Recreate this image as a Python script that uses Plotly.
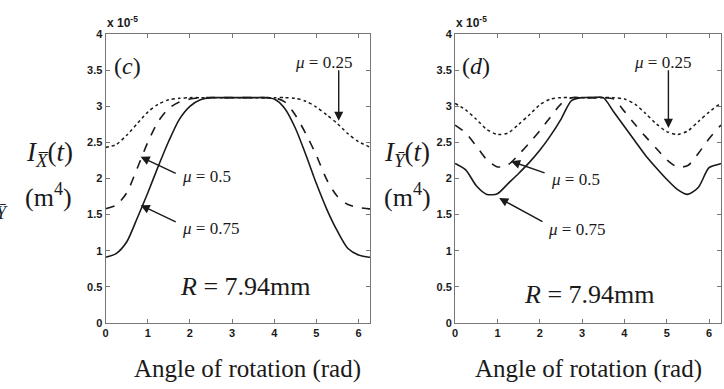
import math
import plotly.graph_objects as go

# Rotation angle samples (rad)
ANGLE = [0.0, 0.25, 0.5, 0.75, 1.0, 1.25, 1.5, 1.75, 2.0, 2.25, 2.5, 2.75, 3.0,
         3.25, 3.5, 3.75, 4.0, 4.25, 4.5, 4.75, 5.0, 5.25, 5.5, 5.75, 6.0, 6.25,
         2 * math.pi]

# Panel (c): I_X(t), units of 1e-5 m^4
IX_MU025 = [2.43, 2.47, 2.60, 2.76, 2.92, 3.03, 3.09, 3.11, 3.12, 3.12, 3.12, 3.12, 3.12,
            3.12, 3.12, 3.12, 3.12, 3.12, 3.11, 3.07, 2.99, 2.88, 2.76, 2.62, 2.51, 2.44,
            2.43]
IX_MU050 = [1.58, 1.63, 1.80, 2.14, 2.50, 2.79, 2.97, 3.06, 3.10, 3.12, 3.12, 3.12, 3.12,
            3.12, 3.12, 3.12, 3.12, 3.06, 2.88, 2.62, 2.32, 1.98, 1.75, 1.64, 1.60, 1.58,
            1.58]
IX_MU075 = [0.91, 0.96, 1.12, 1.45, 1.80, 2.17, 2.52, 2.82, 3.00, 3.09, 3.12, 3.12, 3.12,
            3.12, 3.12, 3.12, 3.10, 2.97, 2.70, 2.33, 1.93, 1.57, 1.27, 1.03, 0.94, 0.91,
            0.91]

# Panel (d): I_Y(t), units of 1e-5 m^4
IY_MU025 = [3.04, 2.95, 2.82, 2.68, 2.61, 2.63, 2.75, 2.88, 3.02, 3.10, 3.12, 3.12, 3.12,
            3.12, 3.12, 3.12, 3.10, 3.03, 2.90, 2.76, 2.65, 2.61, 2.66, 2.79, 2.92, 3.03,
            3.04]
IY_MU050 = [2.74, 2.63, 2.45, 2.26, 2.16, 2.19, 2.33, 2.49, 2.66, 2.85, 3.03, 3.12, 3.12,
            3.12, 3.12, 3.10, 2.93, 2.75, 2.58, 2.42, 2.26, 2.16, 2.18, 2.35, 2.55, 2.72,
            2.74]
IY_MU075 = [2.21, 2.12, 1.90, 1.78, 1.79, 1.93, 2.07, 2.22, 2.39, 2.59, 2.82, 3.08, 3.12,
            3.12, 3.12, 2.92, 2.72, 2.52, 2.32, 2.15, 1.99, 1.85, 1.78, 1.88, 2.15, 2.20,
            2.21]

X_TICKS = [0, 1, 2, 3, 4, 5, 6]
Y_TICKS = [0, 0.5, 1, 1.5, 2, 2.5, 3, 3.5, 4]
Y_TICK_TEXT = ["0", "0.5", "1", "1.5", "2", "2.5", "3", "3.5", "4"]

W, H = 724, 389
SERIF = "Liberation Serif, Times New Roman, serif"
SANS = "Liberation Sans, Arial, sans-serif"
INK = "#1a1a1a"

fig = go.Figure()

styles = [("dot", 1.5), ("dash", 1.6), ("solid", 1.6)]
panels = [
    ("x", "y", [IX_MU025, IX_MU050, IX_MU075]),
    ("x2", "y2", [IY_MU025, IY_MU050, IY_MU075]),
]
for xa, ya, series in panels:
    for vals, (dash, w) in zip(series, styles):
        fig.add_trace(go.Scatter(
            x=ANGLE, y=vals, xaxis=xa, yaxis=ya, mode="lines",
            line=dict(color=INK, width=w, dash=dash, shape="spline", smoothing=0.75),
            showlegend=False, hoverinfo="skip",
        ))


def px_x(p):
    return p / W


def px_y(p):
    return (H - p) / H


axis_common = dict(
    showline=True, linecolor="#777", linewidth=1, mirror="ticks",
    ticks="inside", ticklen=4, tickcolor="#777", tickwidth=1,
    showgrid=False, zeroline=False,
    tickfont=dict(family=SANS, size=11, color="#1a1a1a", weight="bold"),
)

fig.update_layout(
    width=W, height=H,
    margin=dict(l=0, r=0, t=0, b=0),
    paper_bgcolor="white", plot_bgcolor="white",
    xaxis=dict(domain=[px_x(103), px_x(369)], range=[0, 2 * math.pi],
               tickvals=X_TICKS, anchor="y", **axis_common),
    yaxis=dict(domain=[px_y(327), px_y(29)], range=[0, 4],
               tickvals=Y_TICKS, ticktext=Y_TICK_TEXT, anchor="x", **axis_common),
    xaxis2=dict(domain=[px_x(454), px_x(721)], range=[0, 2 * math.pi],
                tickvals=X_TICKS, anchor="y2", **axis_common),
    yaxis2=dict(domain=[px_y(327), px_y(29)], range=[0, 4],
                tickvals=Y_TICKS, ticktext=Y_TICK_TEXT, anchor="x2", **axis_common),
)

ann = []


def text(x, y, s, size, xref="paper", yref="paper", xanchor="center", yanchor="middle",
         family=SERIF, weight="normal"):
    ann.append(dict(x=x, y=y, xref=xref, yref=yref, text=s, showarrow=False,
                    xanchor=xanchor, yanchor=yanchor,
                    font=dict(family=family, size=size, color=INK, weight=weight)))


def arrow(xr, yr, tip, start):
    ann.append(dict(x=tip[0], y=tip[1], ax=start[0], ay=start[1],
                    xref=xr, yref=yr, axref=xr, ayref=yr, text="",
                    showarrow=True, arrowhead=2, arrowsize=1.3, arrowwidth=1.4,
                    arrowcolor=INK, standoff=0))


# Exponent labels
text(px_x(102), px_y(17), "x 10<sup>-5</sup>", 12, xanchor="left", family=SANS, weight="bold")
text(px_x(453), px_y(17), "x 10<sup>-5</sup>", 12, xanchor="left", family=SANS, weight="bold")

# Panel (c)
text(0.15, 3.56, "(<i>c</i>)", 24, "x", "y", xanchor="left")
text(4.45, 3.61, "<i>μ</i> = 0.25", 17, "x", "y", xanchor="left")
text(1.77, 2.03, "<i>μ</i> = 0.5", 17, "x", "y", xanchor="left")
text(1.77, 1.31, "<i>μ</i> = 0.75", 17, "x", "y", xanchor="left")
text(1.72, 0.50, "<i>R</i> = 7.94mm", 26, "x", "y", xanchor="left")
arrow("x", "y", (5.53, 2.80), (5.53, 3.52))
arrow("x", "y", (0.83, 2.30), (1.70, 2.06))
arrow("x", "y", (0.83, 1.63), (1.70, 1.39))

# Panel (d)
text(0.12, 3.56, "(<i>d</i>)", 24, "x2", "y2", xanchor="left")
text(4.17, 3.61, "<i>μ</i> = 0.25", 17, "x2", "y2", xanchor="left")
text(2.22, 1.99, "<i>μ</i> = 0.5", 17, "x2", "y2", xanchor="left")
text(2.15, 1.30, "<i>μ</i> = 0.75", 17, "x2", "y2", xanchor="left")
text(1.58, 0.39, "<i>R</i> = 7.94mm", 26, "x2", "y2", xanchor="left")
arrow("x2", "y2", (5.04, 2.70), (5.04, 3.52))
arrow("x2", "y2", (1.32, 2.24), (2.15, 2.07))
arrow("x2", "y2", (1.04, 1.73), (2.10, 1.39))

# Axis titles
text(px_x(246), px_y(375), "Angle of rotation (rad)", 25)
text(px_x(588), px_y(375), "Angle of rotation (rad)", 25)
text(px_x(47), px_y(153), "<i>I</i><sub><i>X\u0305</i></sub>(<i>t</i>)", 27)
text(px_x(46), px_y(196), "(m<sup>4</sup>)", 26)
text(px_x(406), px_y(153), "<i>I</i><sub><i>Ȳ</i></sub>(<i>t</i>)", 27)
text(px_x(406), px_y(196), "(m<sup>4</sup>)", 26)

# Subscript of a neighbouring label at the left edge
text(px_x(7), px_y(214), "<i>Ȳ</i>", 18, xanchor="right")

fig.update_layout(annotations=ann)
fig.write_html("out.html")
